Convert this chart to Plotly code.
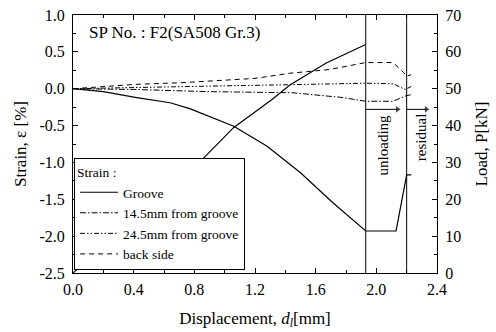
import plotly.graph_objects as go

# ---- data ----
d_groove = [0, 0.2, 0.42, 0.64, 0.77, 0.95, 1.06, 1.28, 1.5, 1.71, 1.93, 2.13, 2.2, 2.23]
s_groove = [0, -0.04, -0.12, -0.19, -0.27, -0.42, -0.51, -0.78, -1.14, -1.54, -1.93, -1.93, -1.17, -1.17]

d_145 = [0, 0.4, 0.9, 1.45, 1.78, 1.93, 2.11, 2.19, 2.23]
s_145 = [0, -0.01, -0.04, -0.055, -0.12, -0.17, -0.17, -0.1, -0.08]

d_245 = [0, 0.4, 0.9, 1.45, 1.93, 2.11, 2.19, 2.23]
s_245 = [0, 0.02, 0.035, 0.055, 0.075, 0.067, -0.01, 0.03]

d_back = [0, 0.2, 0.42, 0.7, 0.9, 1.2, 1.43, 1.69, 1.93, 2.11, 2.18, 2.2, 2.23]
s_back = [0, 0.03, 0.06, 0.08, 0.1, 0.14, 0.21, 0.26, 0.355, 0.355, 0.22, 0.17, 0.19]

d_load = [0, 0.4, 0.84, 1.06, 1.13, 1.31, 1.43, 1.67, 1.93]
p_load = [0, 15, 30.3, 39.5, 41.6, 47, 51, 57, 62]

x_ticks = [0.0, 0.4, 0.8, 1.2, 1.6, 2.0, 2.4]
x_ticktext = ["0.0", "0.4", "0.8", "1.2", "1.6", "2.0", "2.4"]
y_ticks = [1.0, 0.5, 0.0, -0.5, -1.0, -1.5, -2.0, -2.5]
y_ticktext = ["1.0", "0.5", "0.0", "-0.5", "-1.0", "-1.5", "-2.0", "-2.5"]
y2_ticks = [0, 10, 20, 30, 40, 50, 60, 70]

d_unload = 1.93
d_resid = 2.2
unload_arrow_x = [1.93, 2.14]
resid_arrow_x = [2.2, 2.33]
arrow_y = -0.28

FONT = "Liberation Serif"

fig = go.Figure()
fig.add_trace(go.Scatter(x=d_groove, y=s_groove, mode="lines", name="Groove",
                         line=dict(color="black", width=1.2)))
fig.add_trace(go.Scatter(x=d_145, y=s_145, mode="lines", name="14.5mm from groove",
                         line=dict(color="black", width=1, dash="6px,2px,1.5px,2px")))
fig.add_trace(go.Scatter(x=d_245, y=s_245, mode="lines", name="24.5mm from groove",
                         line=dict(color="black", width=1, dash="5px,2px,1.5px,2px,1.5px,2px")))
fig.add_trace(go.Scatter(x=d_back, y=s_back, mode="lines", name="back side",
                         line=dict(color="black", width=1, dash="5px,4px")))
fig.add_trace(go.Scatter(x=d_load, y=p_load, mode="lines", name="Load", yaxis="y2",
                         showlegend=False, line=dict(color="black", width=1.2)))

# arrows for unloading / residual
for ax_x in (unload_arrow_x, resid_arrow_x):
    fig.add_trace(go.Scatter(x=ax_x, y=[arrow_y, arrow_y], mode="lines+markers",
                             showlegend=False, hoverinfo="skip",
                             line=dict(color="black", width=1),
                             marker=dict(symbol=["line-ns", "triangle-right"],
                                         size=[0, 6], color="black",
                                         line=dict(width=0, color="black"))))

# vertical markers
for dv in (d_unload, d_resid):
    fig.add_shape(type="line", xref="x", yref="paper", x0=dv, x1=dv, y0=0, y1=1,
                  line=dict(color="black", width=1))

fig.add_annotation(x=2.05, y=-0.77, text="unloading", textangle=-90, showarrow=False,
                   font=dict(family=FONT, size=15, color="black"))
fig.add_annotation(x=2.295, y=-0.67, text="residual", textangle=-90, showarrow=False,
                   font=dict(family=FONT, size=15, color="black"))
fig.add_annotation(x=0.09, y=0.76, text="SP No. : F2(SA508 Gr.3)", showarrow=False,
                   xanchor="left", font=dict(family=FONT, size=17, color="black"))

axis_common = dict(showline=True, linecolor="black", linewidth=1, ticks="inside",
                   tickcolor="black", ticklen=5, showgrid=False, zeroline=False,
                   automargin=False,
                   tickfont=dict(family=FONT, size=16, color="black"))

fig.update_layout(
    width=496, height=332,
    margin=dict(l=73, r=59, t=15, b=59),
    paper_bgcolor="white", plot_bgcolor="white",
    font=dict(family=FONT, color="black"),
    xaxis=dict(range=[0, 2.4], tickvals=x_ticks, ticktext=x_ticktext, mirror="ticks",
               minor=dict(dtick=0.2, ticks="inside", ticklen=3, tickcolor="black"),
               title=dict(text="Displacement, <i>d</i><sub><i>l</i></sub>[mm]",
                          font=dict(family=FONT, size=17), standoff=14),
               ticklabelstandoff=2, **axis_common),
    yaxis=dict(range=[-2.5, 1.0], tickvals=y_ticks, ticktext=y_ticktext,
               minor=dict(dtick=0.25, ticks="inside", ticklen=3, tickcolor="black"),
               title=dict(text="Strain, ε [%]", font=dict(family=FONT, size=17), standoff=8),
               ticklabelstandoff=4, **axis_common),
    yaxis2=dict(range=[0, 70], tickvals=y2_ticks, overlaying="y", side="right",
                minor=dict(dtick=5, ticks="inside", ticklen=3, tickcolor="black"),
                title=dict(text="Load, P[kN]", font=dict(family=FONT, size=17), standoff=14),
                ticklabelstandoff=4, **axis_common),
    legend=dict(x=0.003, y=0.01, xanchor="left", yanchor="bottom",
                bgcolor="white", bordercolor="black", borderwidth=1,
                font=dict(family=FONT, size=13.5, color="black"),
                title=dict(text="Strain :", font=dict(family=FONT, size=13.5)),
                tracegroupgap=0, itemwidth=38),
    showlegend=True,
)

fig.write_html("out.html")
